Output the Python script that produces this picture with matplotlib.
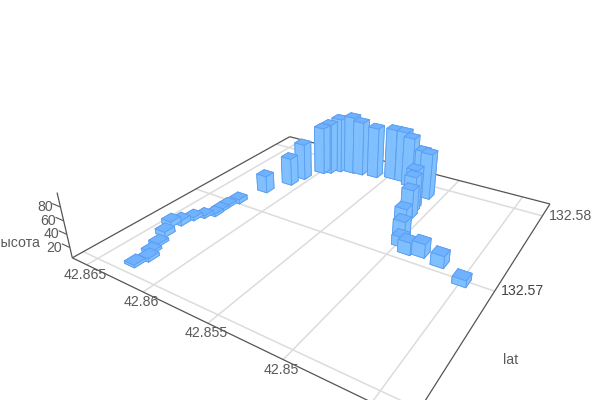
import numpy as np
import matplotlib
matplotlib.use("Agg")
import matplotlib.pyplot as plt
from matplotlib.transforms import offset_copy
from mpl_toolkits.mplot3d import proj3d

lon = [42.86271,42.86245,42.86291,42.86323,42.8637,42.86432,42.86384,42.86361,42.8632,42.86275,42.8628,42.8628,42.86252,
       42.86189,42.86105,42.86074,42.86003,42.85958,42.85905,42.85805,42.85732,42.8561,42.85479,42.8539,42.8531,42.85204,42.85116,
       42.85129,42.85118,42.85101,42.85095,42.85035,42.84985,42.84913,42.84825,42.8468,42.84496]
lat = [132.56098,132.56185,132.56248,132.56338,132.56439,132.56552,132.56598,132.56693,132.56756,132.56813,132.56877,132.56958,132.57043,
       132.57283,132.57481,132.57616,132.57782,132.57817,132.57881,132.57913,132.57924,132.57944,132.57991,132.57992,132.57948,132.57936,132.5784,
       132.57641,132.57592,132.57519,132.57415,132.57275,132.57163,132.57107,132.57128,132.5709,132.56985]
height = [8,9,8,8,12,12,12,9,8,8,8,8,11,32,50,65,84,90,97,102,96,90,90,90,87,71,79,69,63,50,30,28,19,23,25,22,14]

lon_ticks = [42.865,42.86,42.855,42.85,42.845]
lon_labels = ["42.865","42.86","42.855","42.85"]
lat_ticks = [132.56,132.57,132.58]
lat_labels = ["132.57","132.58"]
z_ticks = [20,40,60,80]

lon_max, lon_min = 42.8664, 42.843
lat_min, lat_max = 132.5592, 132.582
z_min, z_top, z_box = 4.1, 100.4, 161.0
bar_w = 0.00088

plt.rcParams['font.family'] = ['Liberation Sans','DejaVu Sans']
TXT = '#5a5a5a'; FS = 10.2
fig = plt.figure(figsize=(6,4), dpi=100, facecolor='white')
S = 505.0
ax = fig.add_axes([69.9/600, (400-438.5)/400, S/600, S/400], projection='3d', computed_zorder=False)
ax.set_box_aspect((1.097,1.085,0.354))
ax.view_init(elev=26.9, azim=-57.4, roll=0)
ax.set_proj_type('persp', focal_length=0.2191)
ax.set_axis_off()

def seg(x,y,z,c,lw,zo):
    ax.plot(x,y,z,color=c,lw=lw,zorder=zo,clip_on=False,solid_capstyle='butt')

GRID='#dcdcdc'; AX='#555555'
for t in lon_ticks:
    seg([t,t],[lat_min,lat_max],[z_min,z_min],GRID,1.1,1)
for t in lat_ticks:
    seg([lon_min,lon_max],[t,t],[z_min,z_min],GRID,1.1,1)
seg([lon_max,lon_min],[lat_min,lat_min],[z_min,z_min],AX,0.9,2)
seg([lon_max,lon_max],[lat_min,lat_max],[z_min,z_min],AX,0.9,2)
seg([lon_max,lon_min],[lat_max,lat_max],[z_min,z_min],AX,0.9,2)
seg([lon_min,lon_min],[lat_min,lat_max],[z_min,z_min],AX,0.9,2)
seg([lon_max,lon_max],[lat_min,lat_min],[z_min,z_top],AX,0.9,2)
for t in z_ticks:
    seg([lon_max,lon_max+0.0008],[lat_min,lat_min],[t,t],AX,0.8,2)

side, top = '#80c0ff', '#6fb2ff'
order = sorted(range(len(lon)), key=lambda i: -((lon[i]-lon_min)*0.5388+(lat[i]-lat_min)*0.8425))
for k,i in enumerate(order):
    p = ax.bar3d(lon[i]-bar_w/2, lat[i]-bar_w/2, z_min, bar_w, bar_w, height[i]-z_min,
                 color=[side,top,side,side,side,side], edgecolor='#5c9ff0', linewidth=0.6,
                 shade=False, alpha=0.95, zorder=10+k)
    p.set_clip_on(False)

ax.set_xlim(lon_max, lon_min)
ax.set_ylim(lat_min, lat_max)
ax.set_zlim(z_min, z_box)

M = ax.get_proj()
def label(x,y,z,s,dx,dy,color=TXT):
    px,py,_ = proj3d.proj_transform(x,y,z,M)
    tr = offset_copy(ax.transData, fig=fig, x=dx, y=dy, units='dots')
    ax.text2D(px,py,s,transform=tr,ha='center',va='center',color=color,fontsize=FS,zorder=50,clip_on=False)

for t,s in zip(lon_ticks,lon_labels):
    label(t,lat_min,z_min,s,-2,-10)
for t,s in zip(lat_ticks[1:],lat_labels):
    label(lon_min,t,z_min,s,28,0,color='#444444' if s=="132.57" else TXT)
for t in z_ticks:
    label(lon_max,lat_min,t,str(t),-15.5,0)
fig.text(510.7/600,1-360/400,"lat",ha='center',va='center',color=TXT,fontsize=FS)
fig.text(39.5/600,1-243.3/400,"высота",ha='right',va='center',color=TXT,fontsize=FS)

fig.savefig('out.png',dpi=100)
